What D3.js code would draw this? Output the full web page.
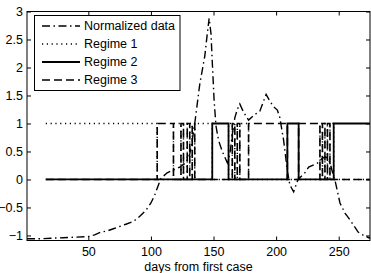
<!DOCTYPE html>
<html>
<head>
<meta charset="utf-8">
<script src="https://cdn.jsdelivr.net/npm/d3@7"></script>
<style>
  body { margin: 0; background: #fff; }
  text { font-family: "Liberation Sans", Arial, sans-serif; }
</style>
</head>
<body>
<div id="chart"></div>
<script>
// normalized data (day, value)
const dataDays = [1, 10, 20, 30, 40, 50, 55, 60, 65, 70, 75, 80, 86, 90, 96, 100, 103, 106, 108, 113, 118, 123, 128, 131, 133, 135, 137, 139, 141, 143, 145, 146.5, 148, 149, 150.5, 152, 154, 157, 161, 163, 165, 167, 169, 171, 174, 178, 183, 187, 190, 192, 195, 198, 201, 203, 206, 209, 211, 214, 217.5, 223, 226, 233, 237, 240, 243, 246, 247.5, 251, 255, 259, 265.5, 270, 275];
const dataValues = [-1.06, -1.06, -1.05, -1.04, -1.03, -1.02, -0.99, -0.94, -0.92, -0.88, -0.84, -0.8, -0.75, -0.68, -0.55, -0.42, -0.28, -0.1, 0.02, 0.12, 0.17, 0.22, 0.3, 0.45, 0.7, 1.0, 1.35, 1.7, 1.95, 2.2, 2.6, 2.88, 2.6, 2.1, 1.4, 0.95, 0.7, 0.5, 0.3, 0.45, 0.8, 1.1, 1.25, 1.35, 1.2, 1.06, 1.16, 1.22, 1.4, 1.52, 1.4, 1.3, 1.24, 1.1, 0.7, 0.15, -0.1, -0.22, 0, 0.12, 0.22, 0.29, 0.38, 0.4, 0.3, 0.05, -0.06, -0.42, -0.6, -0.72, -0.94, -1.0, -1.05];

// regime switches : day where a regime becomes active
const switchDays = [16, 105, 118, 124, 126, 129, 131, 133, 135, 149, 162, 165, 167, 169, 171, 178, 209, 218, 235, 237, 239, 241, 243, 246];
const activeRegime = [1, 3, 1, 3, 1, 3, 1, 3, 1, 2, 1, 3, 1, 3, 1, 3, 2, 3, 1, 3, 1, 3, 1, 2];
const lastDay = 275;

const legendLabels = ["Normalized data", "Regime 1", "Regime 2", "Regime 3"];
const xTicks = [50, 100, 150, 200, 250];
const yTicks = [-1, -0.5, 0, 0.5, 1, 1.5, 2, 2.5, 3];
const xLabel = "days from first case";

const W = 371, H = 273;
const margin = { left: 27, right: 370, top: 11.5, bottom: 240.5 };

const svg = d3.select("#chart").append("svg")
  .attr("width", W).attr("height", H);

const x = d3.scaleLinear().domain([1, 275]).range([margin.left, margin.right]);
const y = d3.scaleLinear().domain([-1.09, 3]).range([margin.bottom, margin.top]);

const fmt = d => String(d).replace("-", "\u2212");

// axes (ticks inside, like matlab)
const gx = svg.append("g").attr("transform", "translate(0," + margin.bottom + ")")
  .call(d3.axisBottom(x).tickValues(xTicks).tickSize(-4).tickPadding(7).tickFormat(fmt));
const gxt = svg.append("g").attr("transform", "translate(0," + margin.top + ")")
  .call(d3.axisTop(x).tickValues(xTicks).tickSize(-4).tickFormat(""));
const gy = svg.append("g").attr("transform", "translate(" + margin.left + ",0)")
  .call(d3.axisLeft(y).tickValues(yTicks).tickSize(-4).tickPadding(4).tickFormat(fmt));
const gyr = svg.append("g").attr("transform", "translate(" + margin.right + ",0)")
  .call(d3.axisRight(y).tickValues(yTicks).tickSize(-4).tickFormat(""));

[gx, gxt, gy, gyr].forEach(g => {
  g.select(".domain").remove();
  g.selectAll(".tick line").attr("stroke", "#000");
  g.selectAll("text").attr("fill", "#000").style("font-size", "12.5px")
    .attr("font-family", null);
});

svg.append("rect")
  .attr("x", margin.left).attr("y", margin.top)
  .attr("width", margin.right - margin.left).attr("height", margin.bottom - margin.top)
  .attr("fill", "none").attr("stroke", "#000").attr("stroke-width", 1);

// regimes as 0/1 step series
const styles = [
  { dash: "8,3.5,1.5,3.5", width: 1.4 },
  { dash: "1.2,3.6", width: 1.4 },
  { dash: null, width: 1.8 },
  { dash: "8,4", width: 1.6 }
];

const regimeSeries = [1, 2, 3].map(r => {
  const pts = switchDays.map((d, i) => [d, activeRegime[i] === r ? 1 : 0]);
  pts.push([lastDay, activeRegime[activeRegime.length - 1] === r ? 1 : 0]);
  return pts;
});

const stepLine = d3.line().x(d => x(d[0])).y(d => y(d[1])).curve(d3.curveStepAfter);

regimeSeries.forEach((s, i) => {
  svg.append("path").datum(s)
    .attr("d", stepLine)
    .attr("fill", "none")
    .attr("stroke", "#000")
    .attr("stroke-width", styles[i + 1].width)
    .attr("stroke-dasharray", styles[i + 1].dash);
});

const dataLine = d3.line().x(d => x(d[0])).y(d => y(d[1]));
svg.append("path").datum(dataDays.map((d, i) => [d, dataValues[i]]))
  .attr("d", dataLine)
  .attr("fill", "none")
  .attr("stroke", "#000")
  .attr("stroke-width", styles[0].width)
  .attr("stroke-dasharray", styles[0].dash);

// x label
svg.append("text")
  .attr("x", (margin.left + margin.right) / 2).attr("y", 270.5)
  .attr("text-anchor", "middle")
  .style("font-size", "12.5px")
  .text(xLabel);

// legend
const lg = svg.append("g");
lg.append("rect")
  .attr("x", 34.5).attr("y", 15.5).attr("width", 145.5).attr("height", 75)
  .attr("fill", "#fff").attr("stroke", "#000").attr("stroke-width", 1);
legendLabels.forEach((lab, i) => {
  const ly = 26 + i * 18;
  lg.append("line")
    .attr("x1", 42).attr("x2", 80).attr("y1", ly).attr("y2", ly)
    .attr("stroke", "#000")
    .attr("stroke-width", styles[i].width)
    .attr("stroke-dasharray", styles[i].dash);
  lg.append("text")
    .attr("x", 84).attr("y", ly).attr("dy", "0.35em")
    .style("font-size", "12.5px")
    .text(lab);
});
</script>
</body>
</html>
